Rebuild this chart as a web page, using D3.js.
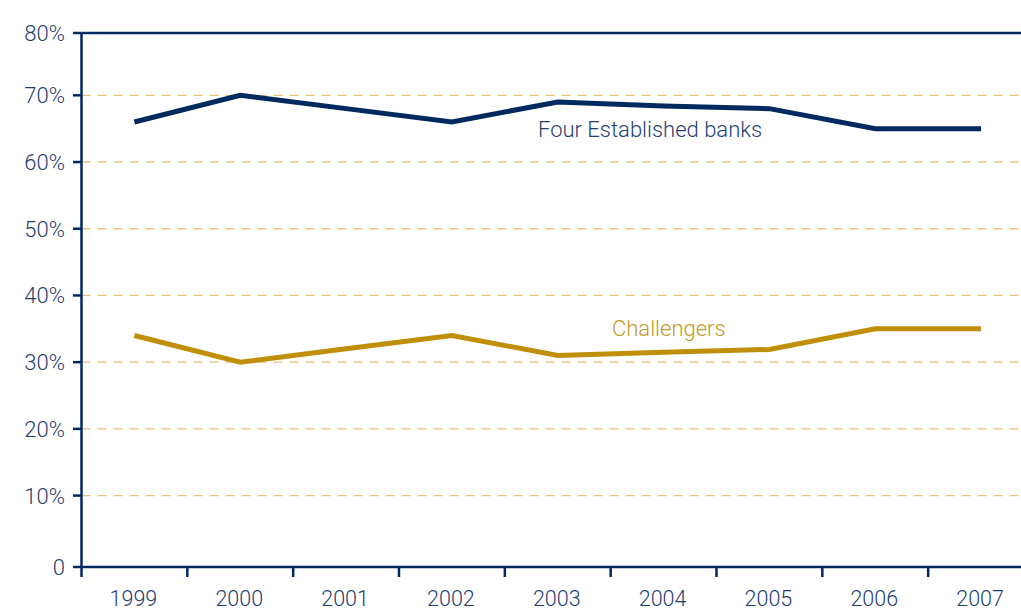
<!DOCTYPE html>
<html>
<head>
<meta charset="utf-8">
<script src="https://cdn.jsdelivr.net/npm/d3@7"></script>
<style>
  body { margin: 0; background: #fff; }
  svg text { font-family: Roboto, "Noto Sans", sans-serif; font-weight: 300; }
</style>
</head>
<body>
<svg id="chart" width="1021" height="610"></svg>
<script>
// data
const years = ["1999", "2000", "2001", "2002", "2003", "2004", "2005", "2006", "2007"];
const established = [66, 70, 68, 66, 69, 68.4, 68, 65, 65];
const challengers = [34, 30, 32, 34, 31, 31.5, 31.9, 35, 35];
const gridTicks = [10, 20, 30, 40, 50, 60, 70];

const navy = "#00295f";
const gold = "#c08f0a";
const textColor = "#1f3e70";

const svg = d3.select("#chart");

const frame = { left: 81.5, top: 33, bottom: 567, right: 1034 };

const x = d3.scaleBand()
    .domain(years)
    .range([frame.left, frame.right]);

const y = d3.scaleLinear()
    .domain([0, 70])
    .range([562.3, 95.3]);

// dashed gridlines
svg.append("g")
  .selectAll("line")
  .data(gridTicks)
  .join("line")
    .attr("x1", frame.left)
    .attr("x2", 1021)
    .attr("y1", d => y(d))
    .attr("y2", d => y(d))
    .attr("stroke", "#e9c27c")
    .attr("stroke-width", 1.3)
    .attr("stroke-dasharray", "9,7");

// frame lines
svg.append("line")
    .attr("x1", frame.left).attr("x2", 1021)
    .attr("y1", frame.top).attr("y2", frame.top)
    .attr("stroke", navy).attr("stroke-width", 2.5);
svg.append("line")
    .attr("x1", frame.left).attr("x2", frame.left)
    .attr("y1", frame.top).attr("y2", frame.bottom + 10)
    .attr("stroke", navy).attr("stroke-width", 2.5);
svg.append("line")
    .attr("x1", frame.left).attr("x2", 1021)
    .attr("y1", frame.bottom).attr("y2", frame.bottom)
    .attr("stroke", navy).attr("stroke-width", 2.5);

// y ticks and labels (0 and 80% sit on the frame lines)
const yLabels = [{ v: 0, t: "0", py: frame.bottom }]
  .concat(gridTicks.map(v => ({ v: v, t: v + "%", py: y(v) })))
  .concat([{ v: 80, t: "80%", py: frame.top }]);

const yAxis = svg.append("g");
yAxis.selectAll("line")
  .data(yLabels)
  .join("line")
    .attr("x1", 73).attr("x2", frame.left)
    .attr("y1", d => d.py).attr("y2", d => d.py)
    .attr("stroke", navy).attr("stroke-width", 2.5);
yAxis.selectAll("text")
  .data(yLabels)
  .join("text")
    .attr("x", 65)
    .attr("y", d => d.py)
    .attr("dy", "0.36em")
    .attr("text-anchor", "end")
    .attr("font-size", 22)
    .attr("fill", textColor)
    .text(d => d.t);

// x ticks at band edges, labels at band centres
const xAxis = svg.append("g");
xAxis.selectAll("line")
  .data(years.slice(1))
  .join("line")
    .attr("x1", d => x(d)).attr("x2", d => x(d))
    .attr("y1", frame.bottom).attr("y2", frame.bottom + 10)
    .attr("stroke", navy).attr("stroke-width", 2.5);
xAxis.selectAll("text")
  .data(years)
  .join("text")
    .attr("x", d => x(d) + x.bandwidth() / 2 - 1)
    .attr("y", 606)
    .attr("text-anchor", "middle")
    .attr("font-size", 21.5)
    .attr("fill", textColor)
    .text(d => d);

const line = d3.line()
    .x((d, i) => x(years[i]) + x.bandwidth() / 2)
    .y(d => y(d));

svg.append("path")
    .attr("d", line(established))
    .attr("fill", "none")
    .attr("stroke", navy)
    .attr("stroke-width", 5);

svg.append("path")
    .attr("d", line(challengers))
    .attr("fill", "none")
    .attr("stroke", gold)
    .attr("stroke-width", 5);

svg.append("text")
    .attr("x", 538).attr("y", 137)
    .attr("font-size", 22)
    .attr("fill", textColor)
    .text("Four Established banks");

svg.append("text")
    .attr("x", 612).attr("y", 336)
    .attr("font-size", 22)
    .attr("fill", "#c39a22")
    .text("Challengers");
</script>
</body>
</html>
